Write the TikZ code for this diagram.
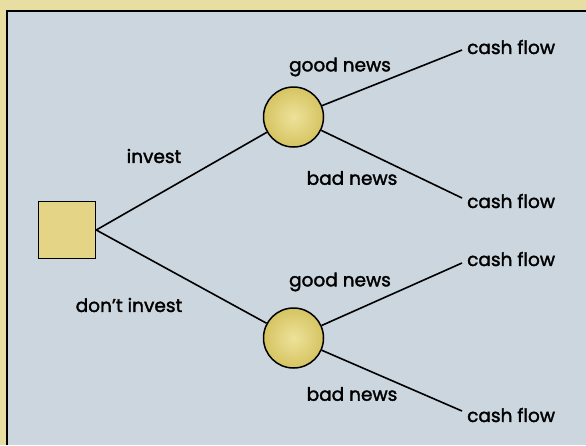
\documentclass[tikz,border=0pt]{standalone}
\usepackage{fontspec}
\setmainfont{Poppins}[FakeBold=1.8]
\definecolor{pageyellow}{HTML}{E8DEA2}
\definecolor{panelblue}{HTML}{CBD6DF}
\definecolor{nodeinner}{HTML}{EDE29A}
\definecolor{nodeouter}{HTML}{D6C462}
\definecolor{sqfill}{HTML}{E4D486}
\begin{document}
\begin{tikzpicture}[x=1pt,y=-1pt,
  decision/.style={draw=black,line width=1.5pt,fill=sqfill,minimum size=57pt,inner sep=0pt},
  chance/.style={circle,draw=black,line width=1.5pt,inner color=nodeinner,outer color=nodeouter,minimum size=60pt,inner sep=0pt},
  lbl/.style={font=\fontsize{18.5}{20}\selectfont,text=black,inner sep=0pt},
  outcome/.style={lbl,inner sep=0pt,anchor=west},
  branch/.style={line width=1.6pt,draw=black}]
\useasboundingbox (0,0) rectangle (586,445);
\fill[pageyellow] (0,0) rectangle (586,445);
\fill[panelblue] (7,11) rectangle (586,445);
\draw[line width=1.4pt] (7,445) -- (7,11) -- (586,11);
% nodes
\node[decision] (d) at (67,230) {};
\node[chance] (c1) at (293.5,117) {};
\node[chance] (c2) at (293.5,338) {};
\node[outcome] (o1) at (467,47) {cash flow};
\node[outcome] (o2) at (467,201) {cash flow};
\node[outcome] (o3) at (467,259) {cash flow};
\node[outcome] (o4) at (467,415) {cash flow};
\coordinate (e1) at (462,50);
\coordinate (e2) at (462,198);
\coordinate (e3) at (462,263);
\coordinate (e4) at (462,411);
% labels
\node[lbl] (l1) at (154,156) {invest};
\node[lbl] (l2) at (129,305) {don’t invest};
\node[lbl] (l3) at (340,67) {good news};
\node[lbl] (l4) at (352,178) {bad news};
\node[lbl] (l5) at (340,282) {good news};
\node[lbl] (l6) at (352,394) {bad news};
% branches
\draw[branch] (d.east) -- (c1);
\draw[branch] (d.east) -- (c2);
\draw[branch] (c1) -- (e1);
\draw[branch] (c1) -- (e2);
\draw[branch] (c2) -- (e3);
\draw[branch] (c2) -- (e4);
\end{tikzpicture}
\end{document}
